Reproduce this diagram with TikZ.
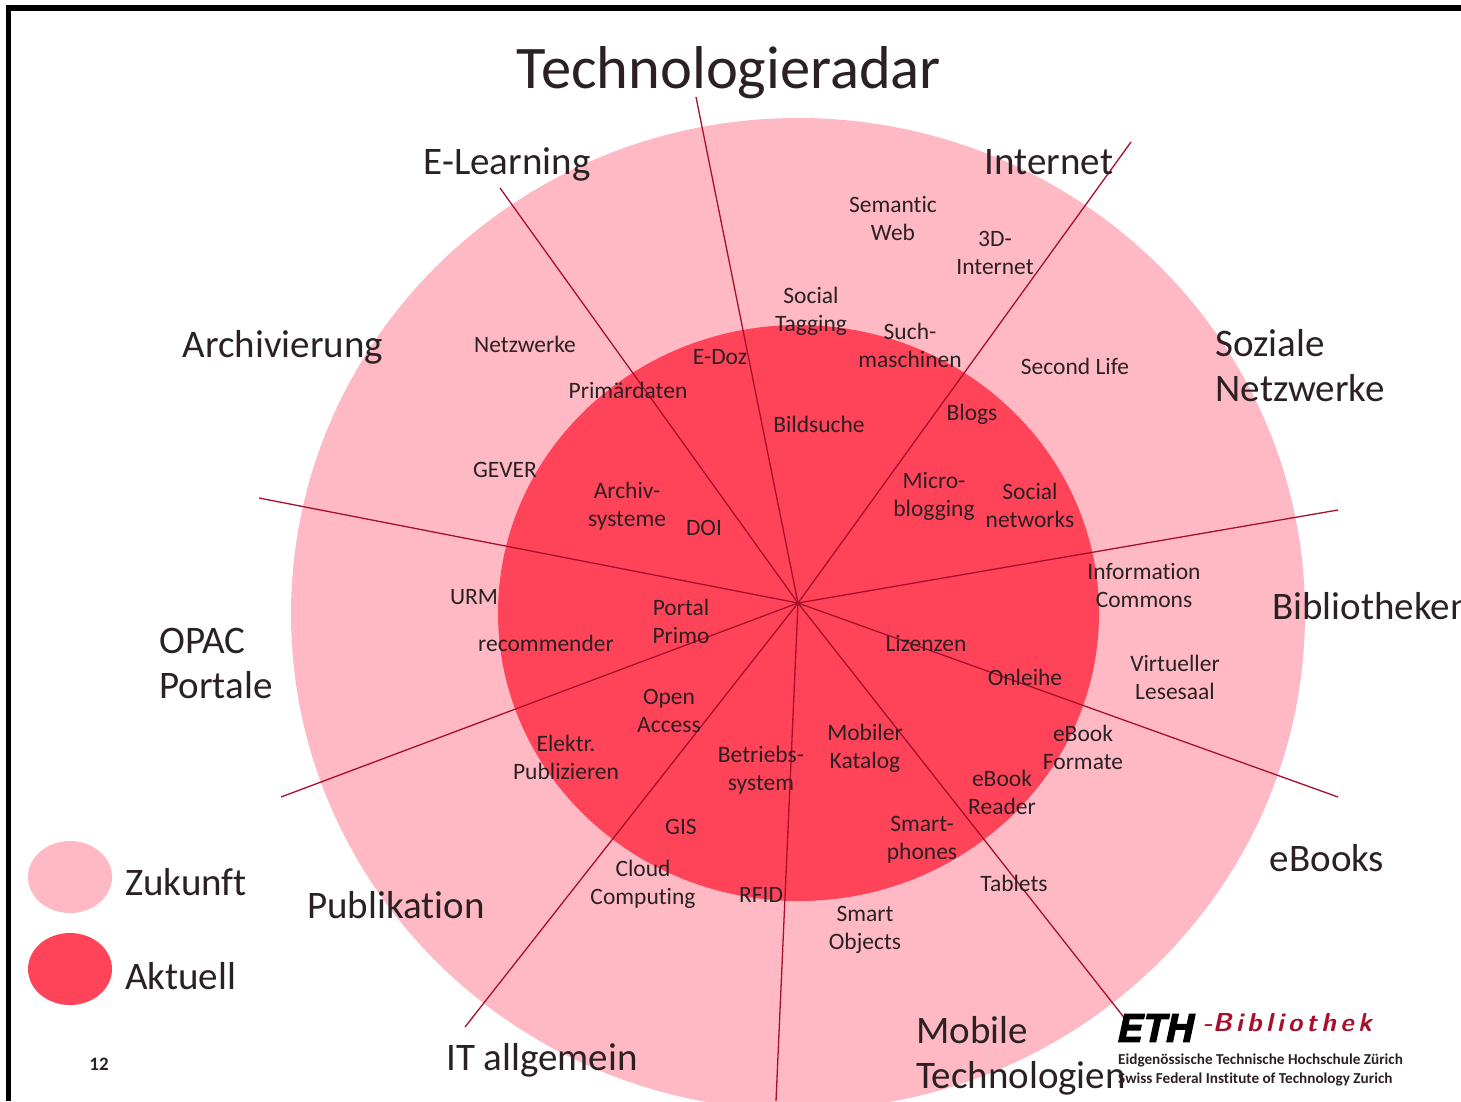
\documentclass[tikz,border=0pt]{standalone}
\usepackage{fontspec}
\setmainfont[Ligatures=CommonOff]{Carlito}
\newfontfamily\ethfont[FakeBold=3]{TeX Gyre Heros}
\definecolor{zukunft}{HTML}{FFB9C4}
\definecolor{aktuell}{HTML}{FF4359}
\definecolor{speiche}{HTML}{A80F2B}
\definecolor{schrift}{HTML}{2B2024}
\tikzset{
  item/.style={align=center,text=schrift,font=\fontsize{23.5}{28}\selectfont,inner sep=0pt},
  thema/.style={align=left,text=schrift,font=\fontsize{39}{45}\selectfont,inner sep=0pt},
  spoke/.style={draw=speiche,line width=1.3pt},
}
\begin{document}
\begin{tikzpicture}[x=1pt,y=-1pt]
\useasboundingbox (0,0) rectangle (1461,1101);
\clip (0,0) rectangle (1461,1101);
\fill[white] (0,0) rectangle (1461,1101);
\draw[line width=5.5pt] (8.5,1101) -- (8.5,8) -- (1461,8);
% scheiben
\fill[zukunft] (798,614) ellipse [x radius=507pt,y radius=496pt];
\fill[aktuell] (798.5,613) ellipse [x radius=300.5pt,y radius=288pt];
\fill[zukunft] (70,877) ellipse [x radius=42pt,y radius=36pt];
\fill[aktuell] (70,969) ellipse [x radius=42pt,y radius=36pt];
% speichen
\coordinate (hub) at (798,603);
\coordinate (s1) at (696,97);
\coordinate (s2) at (1131,142);
\coordinate (s3) at (1338,510);
\coordinate (s4) at (1338,797);
\coordinate (s5) at (1126,1020);
\coordinate (s6) at (776,1101);
\coordinate (s7) at (465,1027);
\coordinate (s8) at (281,797);
\coordinate (s9) at (259,498);
\coordinate (s10) at (500,188);
\foreach \s in {s1,s2,s3,s4,s5,s6,s7,s8,s9,s10}
  \draw[spoke] (hub) -- (\s);
% titel und themen
\node[thema,font=\fontsize{60.5}{60}\selectfont] (titel) at (729,73) {Technologieradar};
\node[thema] (elearning) at (507,164) {E-Learning};
\node[thema] (internet) at (1049,162) {Internet};
\node[thema] (archiv) at (283,347) {Archivierung};
\node[thema] (sozial) at (1300,366) {Soziale\\Netzwerke};
\node[thema] (opac) at (216,663) {OPAC\\Portale};
\node[thema,anchor=west] (biblio) at (1272,606) {Bibliotheken};
\node[thema] (ebooks) at (1327,858) {eBooks};
\node[thema] (publik) at (396,905) {Publikation};
\node[thema] (itall) at (542,1060) {IT allgemein};
\node[thema] (mobil) at (1021,1056) {Mobile\\Technologien};
\node[thema,anchor=west] (zukunfttxt) at (125,882) {Zukunft};
\node[thema,anchor=west] (aktuelltxt) at (125,976) {Aktuell};
% eintraege
\node[item] (semantic) at (893,218) {Semantic\\Web};
\node[item] (internet3d) at (995,253) {3D-\\Internet};
\node[item] (tagging) at (811,311) {Social\\Tagging};
\node[item] (such) at (910,345) {Such-\\maschinen};
\node[item] (netzwerke) at (525,344) {Netzwerke};
\node[item] (edoz) at (720,357) {E-Doz};
\node[item] (second) at (1075,366) {Second Life};
\node[item] (primar) at (628,390) {Primärdaten};
\node[item] (blogs) at (972,414) {Blogs};
\node[item] (bildsuche) at (819,424) {Bildsuche};
\node[item] (gever) at (505,470) {GEVER};
\node[item] (archivsys) at (627,506) {Archiv-\\systeme};
\node[item] (doi) at (704,528) {DOI};
\node[item] (micro) at (934,496) {Micro-\\blogging};
\node[item] (socialnet) at (1030,505) {Social\\networks};
\node[item] (infocom) at (1144,585) {Information\\Commons};
\node[item] (urm) at (474,597) {URM};
\node[item] (portal) at (681,621) {Portal\\Primo};
\node[item] (recomm) at (546,643) {recommender};
\node[item] (lizenzen) at (926,643) {Lizenzen};
\node[item] (onleihe) at (1025,677) {Onleihe};
\node[item] (lesesaal) at (1175,677) {Virtueller\\Lesesaal};
\node[item] (openacc) at (669,711) {Open\\Access};
\node[item] (mobkat) at (865,748) {Mobiler\\Katalog};
\node[item] (ebookf) at (1083,747) {eBook\\Formate};
\node[item] (elektr) at (566,757) {Elektr.\\Publizieren};
\node[item] (betrieb) at (761,770) {Betriebs-\\system};
\node[item] (ebookr) at (1002,792) {eBook\\Reader};
\node[item] (gis) at (681,827) {GIS};
\node[item] (smartph) at (922,840) {Smart-\\phones};
\node[item] (tablets) at (1014,883) {Tablets};
\node[item] (cloud) at (643,884) {Cloud\\Computing};
\node[item] (rfid) at (761,895) {RFID};
\node[item] (smartobj) at (865,930) {Smart\\Objects};
\node[item,font=\bfseries\fontsize{19}{19}\selectfont] (seite) at (99,1064) {12};
% logo
\node[inner sep=0pt,anchor=west,font=\ethfont\bfseries\itshape\fontsize{38}{38}\selectfont] (eth) at (1117,1028) {ETH};
\node[inner sep=0pt,anchor=west,text=speiche,font=\sffamily\itshape\bfseries\fontsize{26}{26}\selectfont] (bib) at (1203,1023) {-B\,i\,b\,l\,i\,o\,t\,h\,e\,k};
\node[inner sep=0pt,anchor=west,text=schrift,font=\bfseries\fontsize{15.2}{15}\selectfont] (eth1) at (1118,1060) {Eidgenössische Technische Hochschule Zürich};
\node[inner sep=0pt,anchor=west,text=schrift,font=\bfseries\fontsize{15.2}{15}\selectfont] (eth2) at (1118,1079) {Swiss Federal Institute of Technology Zurich};
\end{tikzpicture}
\end{document}
